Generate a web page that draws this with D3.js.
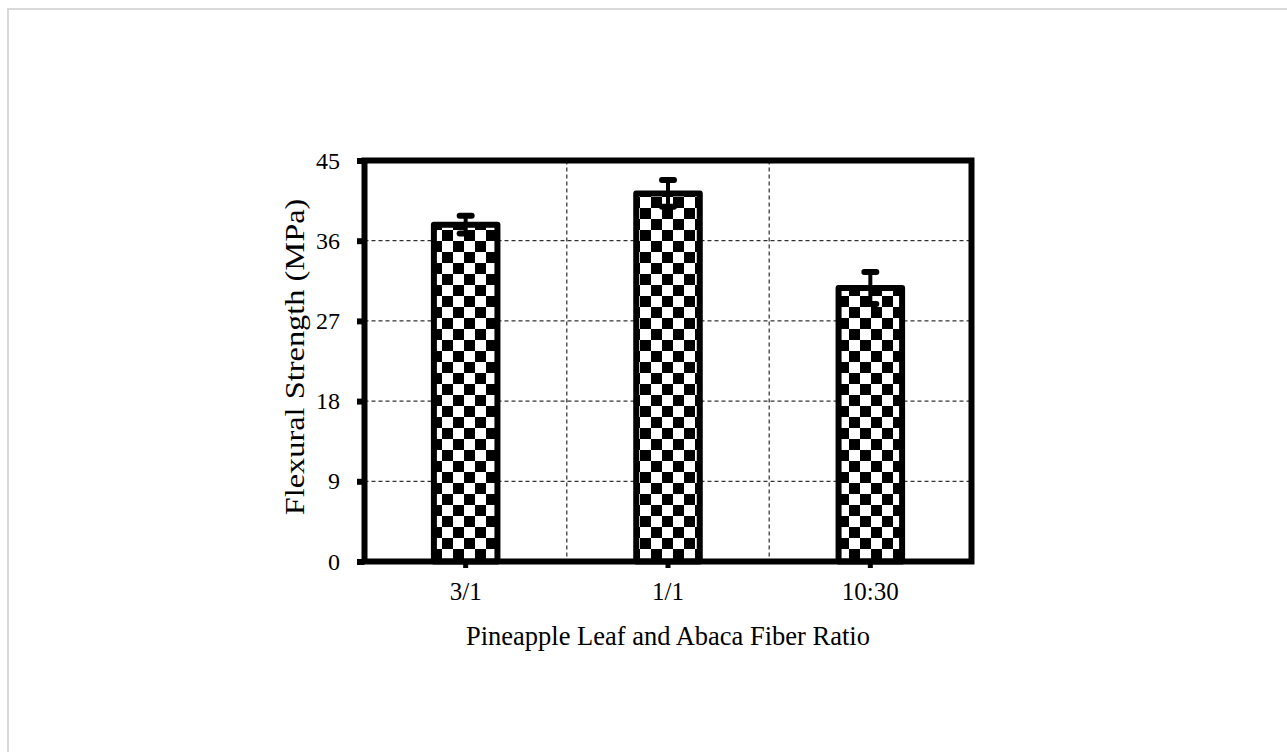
<!DOCTYPE html>
<html>
<head>
<meta charset="utf-8">
<script src="https://cdn.jsdelivr.net/npm/d3@7"></script>
<style>
  html, body { margin: 0; padding: 0; background: #fff; }
  svg { display: block; }
  text { font-family: "Liberation Serif", "Times New Roman", serif; fill: #000; }
</style>
</head>
<body>
<svg id="chart" width="1287" height="752"></svg>
<script>
// Flexural strength for each fibre ratio, with error bar half-widths
const categories = ["3/1", "1/1", "10:30"];
const strength = [37.8, 41.3, 30.7];
const strengthErr = [1.0, 1.5, 1.8];
const yTicks = [0, 9, 18, 27, 36, 45];

const svg = d3.select("#chart");
const W = 1287, H = 752;

// light frame round the figure
svg.append("rect")
  .attr("x", 8).attr("y", 9)
  .attr("width", W + 20).attr("height", H + 20)
  .attr("fill", "none").attr("stroke", "#d9d9d9").attr("stroke-width", 2);

const plot = { left: 364.5, top: 160.5, right: 971.5, bottom: 561.5 };

const x = d3.scaleBand()
  .domain(categories)
  .range([plot.left, plot.right])
  .padding(0);

const y = d3.scaleLinear()
  .domain([0, 45])
  .range([plot.bottom, plot.top]);

// checkerboard fill for the bars
const defs = svg.append("defs");
const cell = 11;
const pat = defs.append("pattern")
  .attr("id", "checker")
  .attr("patternUnits", "userSpaceOnUse")
  .attr("x", 2).attr("y", 10)
  .attr("width", cell * 2).attr("height", cell * 2);
pat.append("rect").attr("width", cell * 2).attr("height", cell * 2).attr("fill", "#fff");
pat.append("rect").attr("x", 0).attr("y", 0).attr("width", cell).attr("height", cell).attr("fill", "#000");
pat.append("rect").attr("x", cell).attr("y", cell).attr("width", cell).attr("height", cell).attr("fill", "#000");

// dashed gridlines
const grid = svg.append("g").attr("stroke", "#000").attr("stroke-width", 1).attr("stroke-dasharray", "4,3");
grid.selectAll("line.h")
  .data(yTicks.filter(t => t > 0 && t < 45))
  .join("line")
  .attr("class", "h")
  .attr("x1", plot.left).attr("x2", plot.right)
  .attr("y1", d => y(d)).attr("y2", d => y(d));
grid.selectAll("line.v")
  .data(categories.slice(1))
  .join("line")
  .attr("class", "v")
  .attr("x1", d => x(d)).attr("x2", d => x(d))
  .attr("y1", plot.top).attr("y2", plot.bottom);

// bars
const barW = x.bandwidth() * 0.314;
const data = categories.map((c, i) => ({ c, v: strength[i], e: strengthErr[i] }));
svg.append("g").selectAll("rect")
  .data(data)
  .join("rect")
  .attr("x", d => x(d.c) + x.bandwidth() / 2 - barW / 2)
  .attr("y", d => y(d.v))
  .attr("width", barW)
  .attr("height", d => y(0) - y(d.v))
  .attr("fill", "url(#checker)")
  .attr("stroke", "#000")
  .attr("stroke-width", 6)
  .attr("stroke-linejoin", "round");

// error bars
const eb = svg.append("g").attr("stroke", "#000").attr("stroke-linecap", "round");
const cx = d => x(d.c) + x.bandwidth() / 2;
eb.selectAll("line.stem")
  .data(data)
  .join("line")
  .attr("class", "stem")
  .attr("x1", cx).attr("x2", cx)
  .attr("y1", d => y(d.v - d.e)).attr("y2", d => y(d.v + d.e))
  .attr("stroke-width", 4);
eb.selectAll("line.capTop")
  .data(data)
  .join("line")
  .attr("class", "capTop")
  .attr("x1", d => cx(d) - 6).attr("x2", d => cx(d) + 6)
  .attr("y1", d => y(d.v + d.e)).attr("y2", d => y(d.v + d.e))
  .attr("stroke-width", 6);
eb.selectAll("line.capBot")
  .data(data)
  .join("line")
  .attr("class", "capBot")
  .attr("x1", d => cx(d) - 6).attr("x2", d => cx(d) + 6)
  .attr("y1", d => y(d.v - d.e)).attr("y2", d => y(d.v - d.e))
  .attr("stroke-width", 6);

// y axis
const yAxis = svg.append("g")
  .attr("transform", `translate(${plot.left},0)`)
  .call(d3.axisLeft(y).tickValues(yTicks).tickSize(7.5).tickPadding(17).tickFormat(d3.format("d")));
yAxis.select(".domain").remove();
yAxis.selectAll(".tick line").attr("stroke", "#000").attr("stroke-width", 6);
yAxis.selectAll(".tick text")
  .style("font-family", '"Liberation Serif", serif')
  .style("font-size", "24px");

// x axis
const xAxis = svg.append("g")
  .attr("transform", `translate(0,${plot.bottom})`)
  .call(d3.axisBottom(x).tickSize(6.5).tickPadding(14));
xAxis.select(".domain").remove();
xAxis.selectAll(".tick line").attr("stroke", "#000").attr("stroke-width", 5);
xAxis.selectAll(".tick text")
  .style("font-family", '"Liberation Serif", serif')
  .style("font-size", "25px");

// plot frame
svg.append("rect")
  .attr("x", plot.left).attr("y", plot.top)
  .attr("width", plot.right - plot.left).attr("height", plot.bottom - plot.top)
  .attr("fill", "none").attr("stroke", "#000").attr("stroke-width", 6);

// axis titles
svg.append("text")
  .attr("x", (plot.left + plot.right) / 2)
  .attr("y", 645)
  .attr("text-anchor", "middle")
  .style("font-size", "26.5px")
  .text("Pineapple Leaf and Abaca Fiber Ratio");

svg.append("text")
  .attr("transform", `translate(304,357) rotate(-90) scale(1.2,1)`)
  .attr("text-anchor", "middle")
  .style("font-size", "27px")
  .text("Flexural Strength (MPa)");
</script>
</body>
</html>
